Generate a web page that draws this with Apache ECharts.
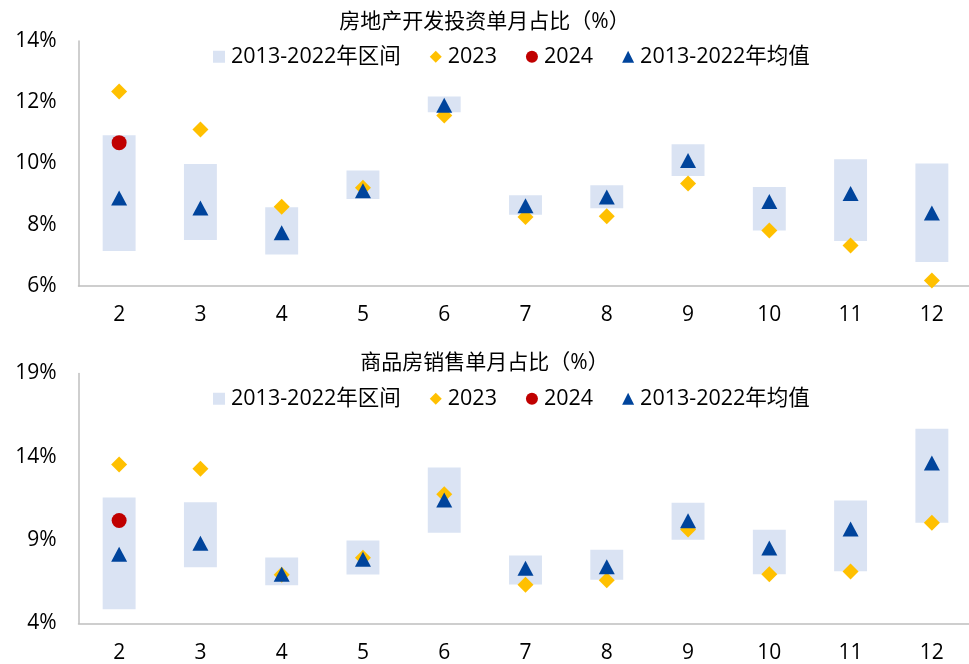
<!DOCTYPE html>
<html>
<head>
<meta charset="utf-8">
<script src="https://cdn.jsdelivr.net/npm/echarts@6/dist/echarts.min.js"></script>
<style>
html,body{margin:0;padding:0;background:#fff;}
#chart{width:969px;height:664px;}
</style>
</head>
<body>
<div id="chart"></div>
<script>
var categories = ['2','3','4','5','6','7','8','9','10','11','12'];

// Top: 房地产开发投资单月占比（%）
var invLow  = [7.14, 7.50, 7.03, 8.84, 11.67, 8.33, 8.54, 9.59, 7.81, 7.47, 6.78];
var invHigh = [10.92, 9.98, 8.57, 9.77, 12.19, 8.96, 9.29, 10.63, 9.23, 10.14, 10.00];
var inv2023 = [12.35, 11.11, 8.59, 9.21, 11.57, 8.25, 8.28, 9.35, 7.81, 7.32, 6.18];
var inv2024 = [10.68, null, null, null, null, null, null, null, null, null, null];
var invAvg  = [8.87, 8.55, 7.74, 9.11, 11.90, 8.62, 8.91, 10.10, 8.76, 9.02, 8.38];

// Bottom: 商品房销售单月占比（%）
var salLow  = [4.86, 7.38, 6.30, 6.94, 9.44, 6.34, 6.62, 9.02, 6.96, 7.14, 10.04];
var salHigh = [11.56, 11.28, 7.96, 8.98, 13.36, 8.08, 8.42, 11.24, 9.62, 11.38, 15.68];
var sal2023 = [13.54, 13.28, 6.92, 7.94, 11.76, 6.32, 6.60, 9.64, 6.96, 7.12, 10.04];
var sal2024 = [10.18, null, null, null, null, null, null, null, null, null, null];
var salAvg  = [8.16, 8.81, 6.96, 7.85, 11.41, 7.31, 7.41, 10.17, 8.53, 9.67, 13.63];

var titles = ['房地产开发投资单月占比（%）', '商品房销售单月占比（%）'];
var legendNames = ['2013-2022年区间', '2023', '2024', '2013-2022年均值'];

var FONT = '"Open Sans", "Noto Sans CJK SC", sans-serif';
var C_RANGE = '#dae3f3', C_2023 = '#ffc000', C_2024 = '#c00000', C_AVG = '#00449c';

var chart = echarts.init(document.getElementById('chart'));

function rangeData(lo, hi) {
  return lo.map(function (v, i) { return [i, v, hi[i]]; });
}
function renderRange(params, api) {
  var x = api.value(0);
  var p1 = api.coord([x, api.value(1)]);
  var p2 = api.coord([x, api.value(2)]);
  var w = api.size([1, 0])[0] * 0.405;
  return {
    type: 'rect',
    shape: { x: p1[0] - w / 2, y: p2[1], width: w, height: p1[1] - p2[1] },
    style: { fill: C_RANGE }
  };
}

var grids = [
  { left: 78.5, top: 41, width: 894, height: 245, outerBoundsMode: 'none', containLabel: false },
  { left: 78.5, top: 373.5, width: 894, height: 250, outerBoundsMode: 'none', containLabel: false }
];
var yCfg = [{ min: 6, max: 14, interval: 2 }, { min: 4, max: 19, interval: 5 }];
var groups = [
  [invLow, invHigh, inv2023, inv2024, invAvg],
  [salLow, salHigh, sal2023, sal2024, salAvg]
];

var xAxes = [], yAxes = [], series = [], titleArr = [], legends = [];
[0, 1].forEach(function (g) {
  xAxes.push({
    type: 'category', gridIndex: g, data: categories, boundaryGap: true,
    axisLine: { lineStyle: { color: '#bfbfbf', width: 1.5 } },
    axisTick: { show: false },
    axisLabel: { color: '#000', fontSize: 21, fontFamily: FONT, margin: 19 }
  });
  yAxes.push({
    type: 'value', gridIndex: g, min: yCfg[g].min, max: yCfg[g].max, interval: yCfg[g].interval,
    axisLine: { show: true, lineStyle: { color: '#bfbfbf', width: 1.5 } },
    axisTick: { show: false },
    splitLine: { show: false },
    axisLabel: { color: '#000', fontSize: 21, fontFamily: FONT, margin: 22, formatter: '{value}%' }
  });
  var d = groups[g];
  var sfx = g === 0 ? '' : ' ';
  series.push({
    name: legendNames[0] + sfx, type: 'custom', xAxisIndex: g, yAxisIndex: g,
    renderItem: renderRange, data: rangeData(d[0], d[1]),
    itemStyle: { color: C_RANGE }, encode: { x: 0, y: [1, 2] }, z: 1
  });
  series.push({
    name: legendNames[1] + sfx, type: 'scatter', xAxisIndex: g, yAxisIndex: g,
    data: d[2], symbol: 'diamond', symbolSize: [16, 16],
    itemStyle: { color: C_2023, opacity: 1 }, z: 2
  });
  series.push({
    name: legendNames[2] + sfx, type: 'scatter', xAxisIndex: g, yAxisIndex: g,
    data: d[3], symbol: 'circle', symbolSize: 15,
    itemStyle: { color: C_2024, opacity: 1 }, z: 3
  });
  series.push({
    name: legendNames[3] + sfx, type: 'scatter', xAxisIndex: g, yAxisIndex: g,
    data: d[4], symbol: 'triangle', symbolSize: [16, 15],
    itemStyle: { color: C_AVG, opacity: 1 }, z: 4
  });
  titleArr.push({
    text: titles[g], left: 'center', top: g === 0 ? 7 : 348,
    textStyle: { fontSize: 21, fontWeight: 'normal', color: '#000', fontFamily: FONT }
  });
  legends.push({
    top: g === 0 ? 41 : 383, left: 208, itemGap: 29, itemWidth: 12, itemHeight: 12,
    selectedMode: false,
    textStyle: { fontSize: 21.5, color: '#000', fontFamily: FONT, padding: [0, 0, 0, 1] },
    data: [
      { name: legendNames[0] + sfx, icon: 'rect' },
      { name: legendNames[1] + sfx, icon: 'diamond' },
      { name: legendNames[2] + sfx, icon: 'circle' },
      { name: legendNames[3] + sfx, icon: 'triangle' }
    ],
    formatter: function (n) { return n.trim(); }
  });
});

chart.setOption({
  animation: false,
  backgroundColor: '#fff',
  title: titleArr,
  legend: legends,
  grid: grids,
  xAxis: xAxes,
  yAxis: yAxes,
  series: series
});
</script>
</body>
</html>
